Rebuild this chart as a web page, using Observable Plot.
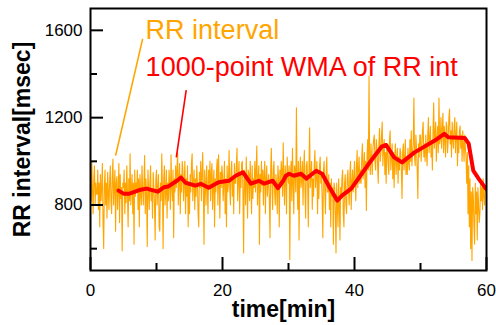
<!DOCTYPE html>
<html>
<head>
<meta charset="utf-8">
<script src="https://cdn.jsdelivr.net/npm/d3@7"></script>
<script src="https://cdn.jsdelivr.net/npm/@observablehq/plot@0.6"></script>
<style>
  html, body { margin: 0; padding: 0; background: #fff; }
  #chart { width: 496px; height: 325px; }
</style>
</head>
<body>
<div id="chart"></div>
<script>
// RR interval samples, one every 0.1 min (10 per minute, one row per minute)
const rrStep = 0.1;
const rrValues = [
  930, 820, 1000, 860, 760, 920, 980, 800, 900, 850,
  850, 960, 780, 900, 700, 940, 820, 880, 990, 720,
  600, 880, 960, 800, 900, 740, 950, 860, 780, 910,
  980, 820, 760, 930, 1010, 800, 880, 960, 680, 900,
  930, 780, 860, 990, 720, 940, 830, 880, 590, 900,
  880, 960, 760, 900, 810, 980, 860, 700, 920, 820,
  1035, 800, 880, 940, 760, 900, 620, 960, 840, 900,
  870, 960, 780, 920, 700, 940, 860, 800, 980, 880,
  800, 900, 1026, 760, 920, 840, 610, 960, 880, 780,
  900, 980, 820, 870, 740, 950, 880, 800, 640, 920,
  960, 800, 880, 940, 700, 680, 900, 820, 1035, 880,
  600, 920, 980, 800, 860, 960, 740, 900, 820, 960,
  900, 780, 1030, 880, 820, 960, 650, 920, 860, 980,
  880, 960, 1040, 800, 920, 990, 760, 940, 860, 1000,
  960, 820, 900, 1000, 760, 920, 840, 980, 700, 900,
  760, 940, 860, 990, 1035, 820, 900, 960, 780, 920,
  840, 980, 900, 760, 700, 950, 880, 1000, 820, 940,
  1040, 860, 620, 960, 900, 800, 980, 880, 760, 960,
  880, 1000, 820, 940, 990, 780, 900, 960, 700, 920,
  860, 960, 1010, 800, 1030, 900, 740, 950, 880, 980,
  940, 820, 900, 1000, 760, 920, 700, 980, 860, 900,
  1050, 880, 800, 960, 1000, 840, 920, 760, 990, 900,
  900, 980, 1060, 820, 920, 1000, 760, 940, 880, 990,
  1000, 860, 580, 960, 920, 800, 1020, 900, 740, 960,
  940, 820, 1000, 900, 760, 980, 830, 920, 880, 1000,
  860, 960, 1070, 800, 920, 980, 620, 940, 860, 1000,
  890, 960, 800, 940, 1000, 760, 920, 980, 840, 900,
  940, 820, 650, 960, 1060, 880, 780, 960, 1000, 860,
  800, 940, 900, 760, 980, 920, 700, 960, 880, 1000,
  960, 840, 1085, 900, 800, 980, 920, 760, 1020, 940,
  900, 980, 550, 940, 1000, 820, 1060, 900, 760, 980,
  960, 860, 1245, 920, 780, 1000, 640, 940, 1020, 880,
  920, 1000, 800, 960, 1050, 860, 740, 980, 1000, 900,
  700, 960, 1154, 880, 940, 1000, 780, 920, 840, 980,
  1050, 880, 940, 1000, 760, 940, 830, 980, 1020, 900,
  940, 820, 650, 960, 1000, 860, 760, 940, 1020, 860,
  860, 940, 780, 900, 700, 920, 840, 880, 620, 900,
  880, 760, 580, 900, 800, 700, 920, 800, 640, 880,
  840, 920, 960, 760, 700, 900, 940, 800, 760, 920,
  960, 860, 800, 940, 1000, 780, 900, 960, 860, 920,
  1000, 900, 820, 980, 1050, 880, 960, 1020, 900, 960,
  900, 1020, 1080, 920, 960, 1040, 880, 1000, 775, 1020,
  1100, 960, 1390, 1000, 940, 1080, 1000, 940, 1060, 1100,
  1120, 1000, 960, 1100, 1060, 980, 900, 1080, 1150, 1000,
  1040, 1120, 1180, 980, 1060, 1100, 940, 1040, 900, 1080,
  1060, 980, 940, 1100, 1140, 960, 1020, 1080, 920, 1040,
  880, 1020, 1080, 940, 1000, 1060, 900, 1020, 960, 1060,
  1040, 960, 830, 1040, 1080, 960, 1000, 1100, 940, 1020,
  940, 1060, 1000, 960, 1100, 1000, 1140, 980, 1040, 1080,
  1290, 1020, 980, 1120, 1060, 960, 830, 1080, 1020, 1120,
  1120, 1000, 1060, 1140, 1180, 1020, 1080, 1000, 1120, 1040,
  980, 1120, 1200, 1040, 1100, 1160, 1020, 1080, 960, 1140,
  1268, 1060, 1120, 1180, 1000, 1100, 1160, 1040, 1290, 1080,
  1100, 1200, 1060, 1140, 1220, 1040, 1160, 1100, 1020, 1180,
  1160, 1040, 1100, 1200, 1240, 1080, 1140, 1020, 1180, 1100,
  1060, 1160, 1200, 1040, 1120, 1180, 980, 1100, 1040, 1140,
  1163, 1060, 1120, 1000, 1140, 1080, 1000, 1120, 1060, 1020,
  900, 1040, 760, 980, 700, 920, 600, 860, 546, 880,
  840, 700, 620, 900, 760, 860, 640, 880, 800, 720,
  760, 900, 820, 880, 780, 920, 840, 800, 880, 860
];

// 1000-point weighted moving average
const wmaTime = [4.25, 5.0, 5.8, 7.6, 8.5, 10.2, 11.1, 11.8, 13.1, 13.7, 14.4, 15.9, 16.7, 17.9, 19.4, 21.0, 22.0, 23.1, 24.3, 25.5, 26.3, 27.6, 28.4, 29.2, 29.6, 30.1, 30.8, 31.9, 32.7, 34.2, 35.1, 36.2, 37.4, 38.1, 39.5, 40.7, 42.5, 44.1, 44.8, 46.0, 47.2, 49.1, 50.4, 52.1, 53.6, 54.2, 56.7, 57.3, 58.0, 58.8, 59.9];
const wmaValue = [866, 852, 851, 870, 875, 861, 881, 885, 911, 926, 902, 889, 897, 879, 904, 911, 934, 950, 898, 911, 898, 911, 877, 911, 934, 943, 934, 943, 921, 957, 943, 881, 820, 843, 875, 926, 1003, 1067, 1075, 1018, 995, 1041, 1064, 1094, 1126, 1110, 1107, 1081, 957, 921, 875];

// axis ticks
const yMajorTicks = [800, 1200, 1600];
const yMinorTicks = [600, 1000, 1400];
const xMajorTicks = [0, 20, 40, 60];
const xMinorTicks = [10, 30, 50];

// labels
const xTitle = "time[min]";
const yTitle = "RR interval[msec]";
const annotationLabels = ["RR interval", "1000-point WMA of RR int"];
const annotationX = [8.35, 8.35];
const annotationY = [1559, 1391];
const leaderFrom = [[7.9, 1561], [14.5, 1326]];
const leaderTo = [[3.8, 1026], [13.0, 1018]];
const colors = ["#ffa500", "#ff0000"];

const rr = rrValues.map((v, i) => ({t: i * rrStep, v}));
const wma = wmaTime.map((t, i) => ({t, v: wmaValue[i]}));
const annotations = annotationLabels.map((label, i) => ({label, t: annotationX[i], v: annotationY[i], color: colors[i]}));
const leaders = leaderFrom.map((f, i) => ({x1: f[0], y1: f[1], x2: leaderTo[i][0], y2: leaderTo[i][1], color: colors[i]}));

const font = "'Liberation Sans', Arial, Helvetica, sans-serif";

const chart = Plot.plot({
  width: 496,
  height: 325,
  marginLeft: 90,
  marginRight: 10,
  marginTop: 8,
  marginBottom: 55,
  style: {fontFamily: font, background: "#fff", color: "#000"},
  x: {domain: [0, 60]},
  y: {domain: [500, 1700]},
  marks: [
    Plot.line(rr, {x: "t", y: "v", stroke: colors[0], strokeWidth: 1.1, clip: true}),
    Plot.line(wma, {x: "t", y: "v", stroke: colors[1], strokeWidth: 4, strokeLinejoin: "round", strokeLinecap: "round", clip: true}),
    Plot.link(leaders, {x1: "x1", y1: "y1", x2: "x2", y2: "y2", stroke: "color", strokeWidth: 1.6}),
    Plot.text(annotations, {x: "t", y: "v", text: "label", fill: "color", fontSize: 27, textAnchor: "start", lineAnchor: "bottom"}),
    Plot.axisY(yMajorTicks, {anchor: "left", tickSize: 0, tickPadding: 8, fontSize: 17, label: null, tickFormat: d3.format("d")}),
    Plot.axisY(yMajorTicks, {anchor: "left", tickSize: -13, text: null, label: null, strokeWidth: 2}),
    Plot.axisY(yMinorTicks, {anchor: "left", tickSize: -7, text: null, label: null, strokeWidth: 2}),
    Plot.axisX(xMajorTicks, {anchor: "bottom", tickSize: 0, tickPadding: 13, fontSize: 17, label: null, tickFormat: d3.format("d")}),
    Plot.axisX(xMajorTicks, {anchor: "bottom", tickSize: -13, text: null, label: null, strokeWidth: 2}),
    Plot.axisX(xMinorTicks, {anchor: "bottom", tickSize: -7, text: null, label: null, strokeWidth: 2}),
    Plot.text([xTitle], {frameAnchor: "bottom", dy: 39, dx: -5, fontSize: 23, fontWeight: "bold", textAnchor: "middle", lineAnchor: "middle"}),
    Plot.text([yTitle], {frameAnchor: "left", rotate: -90, dx: -68, fontSize: 23, fontWeight: "bold", textAnchor: "middle", lineAnchor: "middle"}),
    Plot.frame({stroke: "#000", strokeWidth: 2})
  ]
});
document.getElementById("chart").append(chart);
</script>
</body>
</html>
